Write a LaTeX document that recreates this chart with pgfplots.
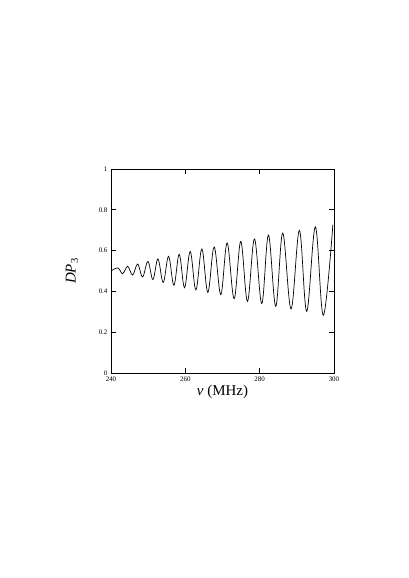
\documentclass[border=0pt]{standalone}
\usepackage{fontspec}
\setmainfont{Liberation Serif}
\usepackage{pgfplots}
\pgfplotsset{compat=1.18}

\begin{document}
\begin{tikzpicture}
\path[use as bounding box] (-111bp,-205bp) rectangle (298bp,373bp);
\begin{axis}[
at={(0,0)}, anchor=south west,
scale only axis,
width=223bp, height=204bp,
xmin=240, xmax=300, ymin=0, ymax=1,
xtick={240,260,280,300},
ytick={0,0.2,0.4,0.6,0.8,1},
tick align=inside,
major tick length=5bp,
axis line style={line width=0.8pt},
tick style={line width=0.6pt, black},
tick label style={font=\fontsize{7}{8}\selectfont},
/pgf/number format/assume math mode=true,
xlabel={\textit{ν} (MHz)},
ylabel={\textit{DP}\textsubscript{3}},
label style={font=\fontsize{15}{17}\selectfont},
xlabel style={yshift=3bp},
ylabel style={yshift=14bp},
]
% peaks and troughs
\addplot[black, line width=0.7pt, smooth, tension=0.6] coordinates {
(240.00,0.500)(241.88,0.515)(243.13,0.487)(244.48,0.523)(245.82,0.480)
(247.16,0.534)(248.51,0.471)(249.94,0.547)(251.28,0.458)(252.63,0.559)
(254.06,0.444)(255.49,0.572)(256.93,0.430)(258.36,0.582)(259.79,0.418)
(261.31,0.596)(262.84,0.407)(264.45,0.608)(266.06,0.395)(267.76,0.618)
(269.55,0.384)(271.25,0.637)(273.13,0.364)(274.92,0.645)(276.72,0.351)
(278.60,0.657)(280.57,0.340)(282.36,0.676)(284.33,0.327)(286.21,0.686)
(288.45,0.314)(290.69,0.699)(292.66,0.302)(294.99,0.716)(297.13,0.283)
(299.70,0.727)
};
\end{axis}
\end{tikzpicture}
\end{document}
